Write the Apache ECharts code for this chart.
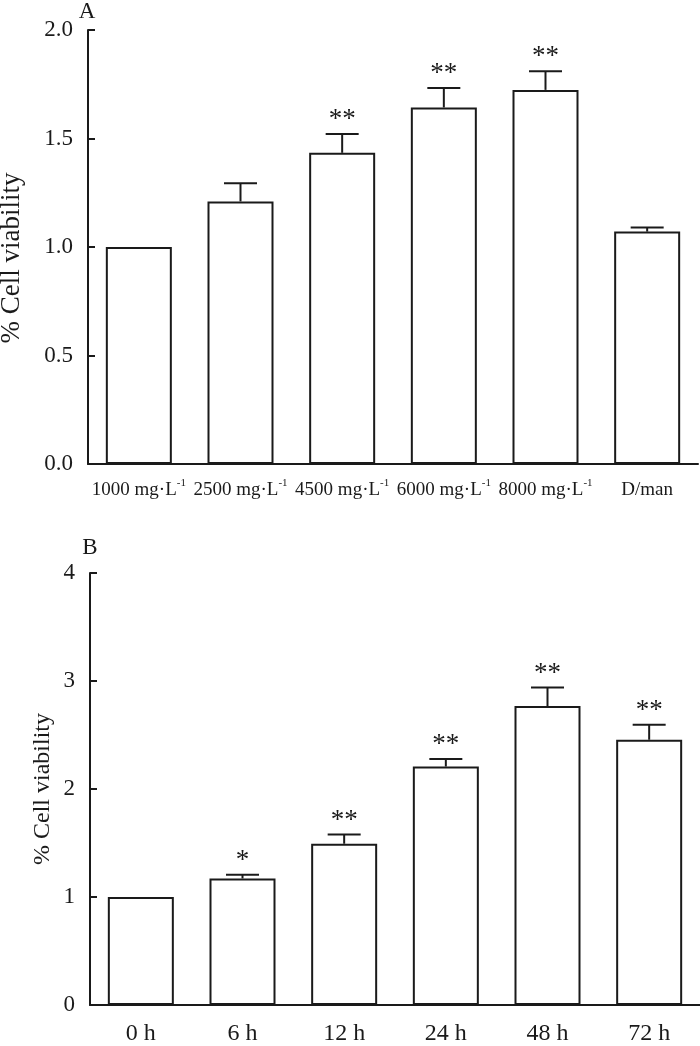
<!DOCTYPE html>
<html>
<head>
<meta charset="utf-8">
<script src="https://cdn.jsdelivr.net/npm/echarts@6/dist/echarts.min.js"></script>
<style>
  html, body { margin: 0; padding: 0; background: #fff; }
  #chart { width: 700px; height: 1046px; }
</style>
</head>
<body>
<div id="chart"></div>
<script>
// panel A: dose
var catA = ['1000 mg·L-1', '2500 mg·L-1', '4500 mg·L-1', '6000 mg·L-1', '8000 mg·L-1', 'D/man'];
var valA = [1.0, 1.21, 1.434, 1.643, 1.724, 1.071];
var errA = [0, 0.084, 0.087, 0.09, 0.086, 0.019];
var sigA = ['', '', '**', '**', '**', ''];
var ticksA = [0, 0.5, 1.0, 1.5, 2.0];

// panel B: time
var catB = ['0 h', '6 h', '12 h', '24 h', '48 h', '72 h'];
var valB = [1.0, 1.172, 1.493, 2.208, 2.768, 2.456];
var errB = [0, 0.033, 0.085, 0.07, 0.171, 0.138];
var sigB = ['', '*', '**', '**', '**', '**'];
var ticksB = [0, 1, 2, 3, 4];

var ink = '#1a1a1a';
var serif = "'Liberation Serif', 'Times New Roman', serif";

function errSeries(idx, vals, errs, sigs) {
  return {
    type: 'custom',
    xAxisIndex: idx,
    yAxisIndex: idx,
    z: 5,
    data: vals.map(function (v, i) { return [i, v, errs[i]]; }),
    renderItem: function (params, api) {
      var i = api.value(0), v = api.value(1), e = api.value(2);
      var sig = sigs[params.dataIndex];
      var base = api.coord([i, v]);
      var top = api.coord([i, v + e]);
      var kids = [];
      if (e > 0) {
        kids.push({ type: 'line', shape: { x1: top[0], y1: base[1], x2: top[0], y2: top[1] },
          style: { stroke: ink, lineWidth: 2 } });
        kids.push({ type: 'line', shape: { x1: top[0] - 16.5, y1: top[1], x2: top[0] + 16.5, y2: top[1] },
          style: { stroke: ink, lineWidth: 2 } });
      }
      if (sig) {
        kids.push({ type: 'text', x: top[0], y: top[1] - 14,
          style: { text: sig, fill: ink, font: '27px ' + serif, align: 'center', verticalAlign: 'middle' } });
      }
      return { type: 'group', children: kids };
    }
  };
}

function yAxisFor(idx, ticks, digits) {
  return {
    gridIndex: idx,
    type: 'value',
    min: ticks[0],
    max: ticks[ticks.length - 1],
    interval: ticks[1] - ticks[0],
    axisLine: { show: true, lineStyle: { color: ink, width: 2 } },
    axisTick: { show: true, inside: true, length: 7, lineStyle: { color: ink, width: 2 } },
    splitLine: { show: false },
    axisLabel: { color: ink, fontSize: 23, fontFamily: serif, margin: 15,
      formatter: function (v) { return v.toFixed(digits); } }
  };
}

function vText(x, y, size) {
  return { type: 'text', x: x, y: y, rotation: Math.PI / 2,
    style: { text: '% Cell viability', fill: ink, font: size + 'px ' + serif, align: 'center', verticalAlign: 'middle' } };
}

var chart = echarts.init(document.getElementById('chart'));
chart.setOption({
  animation: false,
  backgroundColor: '#fff',
  grid: [
    { left: 88, right: 2, top: 30, height: 434 },
    { left: 90, right: 0, top: 573, height: 435 }
  ],
  xAxis: [
    {
      gridIndex: 0, type: 'category', data: catA,
      axisLine: { lineStyle: { color: ink, width: 2 } },
      axisTick: { show: false },
      axisLabel: {
        interval: 0, margin: 14, color: ink, fontFamily: serif,
        formatter: function (s) {
          if (s.slice(-2) === '-1') return '{m|' + s.slice(0, -2) + '}{s|-1}';
          return '{m|' + s + '}';
        },
        rich: {
          m: { fontSize: 19, fontFamily: serif, color: ink, lineHeight: 24 },
          s: { fontSize: 11, fontFamily: serif, color: ink, lineHeight: 11, verticalAlign: 'top' }
        }
      }
    },
    {
      gridIndex: 1, type: 'category', data: catB,
      axisLine: { lineStyle: { color: ink, width: 2 } },
      axisTick: { show: false },
      axisLabel: { interval: 0, margin: 17, color: ink, fontSize: 24, fontFamily: serif }
    }
  ],
  yAxis: [
    yAxisFor(0, ticksA, 1),
    yAxisFor(1, ticksB, 0)
  ],
  series: [
    { type: 'bar', xAxisIndex: 0, yAxisIndex: 0, data: valA, barWidth: 66,
      itemStyle: { color: '#fff', borderColor: ink, borderWidth: 2 } },
    errSeries(0, valA, errA, sigA),
    { type: 'bar', xAxisIndex: 1, yAxisIndex: 1, data: valB, barWidth: 66,
      itemStyle: { color: '#fff', borderColor: ink, borderWidth: 2 } },
    errSeries(1, valB, errB, sigB)
  ],
  graphic: [
    { type: 'text', x: 87, y: 12, style: { text: 'A', fill: ink, font: '23px ' + serif, align: 'center', verticalAlign: 'middle' } },
    { type: 'text', x: 90, y: 548, style: { text: 'B', fill: ink, font: '23px ' + serif, align: 'center', verticalAlign: 'middle' } },
    vText(12, 258, 27),
    vText(43, 789, 24)
  ]
});
</script>
</body>
</html>
